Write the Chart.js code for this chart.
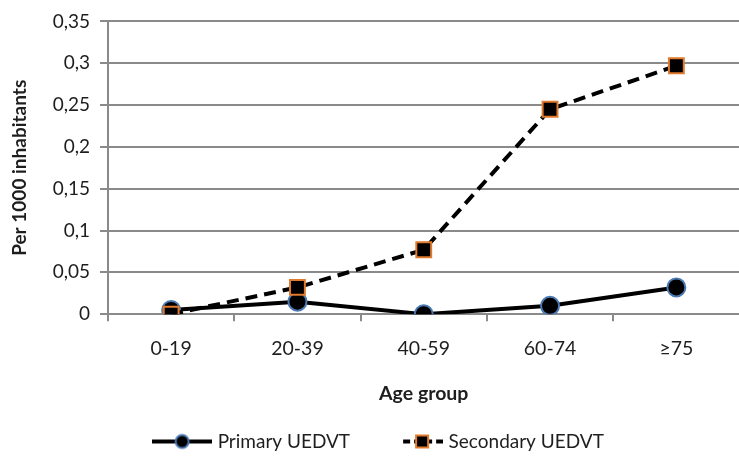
<!DOCTYPE html>
<html>
<head>
<meta charset="utf-8">
<style>
  html, body { margin: 0; padding: 0; background: #fff; overflow: hidden; }
  #wrap { width: 752px; height: 461px; }
</style>
</head>
<body>
<div id="wrap"><canvas id="myChart" width="752" height="461"></canvas></div>
<script src="https://cdn.jsdelivr.net/npm/chart.js"></script>
<script>
    const ageGroups = ['0-19', '20-39', '40-59', '60-74', '\u226575'];
    const primary = [0.005, 0.015, 0.0, 0.01, 0.032];
    const secondary = [0.0, 0.032, 0.077, 0.245, 0.297];
    const yTicks = ['0', '0,05', '0,1', '0,15', '0,2', '0,25', '0,3', '0,35'];

    const fontFamily = 'Lato, "Open Sans", sans-serif';
    const textColor = '#1e1e1e';
    const gridColor = '#8a8a8a';

    // legend symbols (60px wide images, drawn centered in the legend box)
    const makeIcon = (draw) => {
        const c = document.createElement('canvas');
        c.width = 60; c.height = 20;
        draw(c.getContext('2d'));
        return c;
    };
    const primaryIcon = makeIcon(g => {
        g.strokeStyle = '#000';
        g.lineWidth = 4;
        g.beginPath();
        g.moveTo(0, 10); g.lineTo(60, 10);
        g.stroke();
        g.beginPath();
        g.arc(30, 10, 6.5, 0, Math.PI * 2);
        g.fillStyle = '#000';
        g.fill();
        g.lineWidth = 2;
        g.strokeStyle = '#4a79b3';
        g.stroke();
    });
    const secondaryIcon = makeIcon(g => {
        g.strokeStyle = '#000';
        g.lineWidth = 4;
        g.setLineDash([7, 4]);
        g.beginPath();
        g.moveTo(20, 10); g.lineTo(60, 10);
        g.stroke();
        g.setLineDash([]);
        g.fillStyle = '#000';
        g.fillRect(33, 4, 12, 12);
        g.lineWidth = 2;
        g.strokeStyle = '#e07a2c';
        g.strokeRect(33, 4, 12, 12);
    });

    const ctx = document.getElementById('myChart').getContext('2d');
    const lineChart = new Chart(ctx, {
        type: 'line',
        data: {
            labels: ageGroups,
            datasets: [{
                label: 'Primary UEDVT',
                data: primary,
                borderColor: '#000',
                borderWidth: 4,
                pointStyle: 'circle',
                pointRadius: 9,
                pointBackgroundColor: '#000',
                pointBorderColor: '#4a79b3',
                pointBorderWidth: 2,
                order: 1
            }, {
                label: 'Secondary UEDVT',
                data: secondary,
                borderColor: '#000',
                borderWidth: 4,
                borderDash: [12, 7],
                pointStyle: 'rect',
                pointRadius: 10.5,
                pointBackgroundColor: '#000',
                pointBorderColor: '#e07a2c',
                pointBorderWidth: 2,
                order: 0
            }]
        },
        options: {
            responsive: false,
            animation: false,
            layout: { padding: { top: -2, right: 0, left: 8, bottom: 0 } },
            plugins: {
                tooltip: { enabled: false },
                legend: {
                    position: 'bottom',
                    labels: {
                        usePointStyle: true,
                        pointStyleWidth: 52,
                        padding: 37,
                        color: textColor,
                        font: { family: fontFamily, size: 19 },
                        generateLabels: () => [
                            { text: 'Primary UEDVT', pointStyle: primaryIcon, fontColor: textColor, datasetIndex: 0 },
                            { text: 'Secondary UEDVT', pointStyle: secondaryIcon, fontColor: textColor, datasetIndex: 1 }
                        ]
                    }
                }
            },
            scales: {
                x: {
                    offset: true,
                    grid: { offset: true, drawOnChartArea: false, color: gridColor, lineWidth: 2, tickLength: 7 },
                    border: { color: gridColor, width: 2 },
                    ticks: { color: textColor, font: { family: fontFamily, size: 19.5 }, padding: 16 },
                    title: {
                        display: true, text: 'Age group', color: textColor,
                        font: { family: fontFamily, size: 19.5, weight: 'bold' },
                        padding: { top: 5, bottom: -10 }
                    }
                },
                y: {
                    min: 0,
                    max: 0.35,
                    ticks: {
                        stepSize: 0.05,
                        color: textColor,
                        font: { family: fontFamily, size: 19 },
                        padding: 10,
                        callback: (v) => yTicks[Math.round(v / 0.05)]
                    },
                    grid: { color: gridColor, lineWidth: 2, tickLength: 8 },
                    border: { color: gridColor, width: 2 },
                    title: {
                        display: true, text: 'Per 1000 inhabitants', color: textColor,
                        font: { family: fontFamily, size: 19, weight: 'bold' },
                        padding: { top: 0, bottom: 9 }
                    },
                    afterFit: (scale) => { scale.width = 100; }
                }
            }
        }
    });
</script>
</body>
</html>
